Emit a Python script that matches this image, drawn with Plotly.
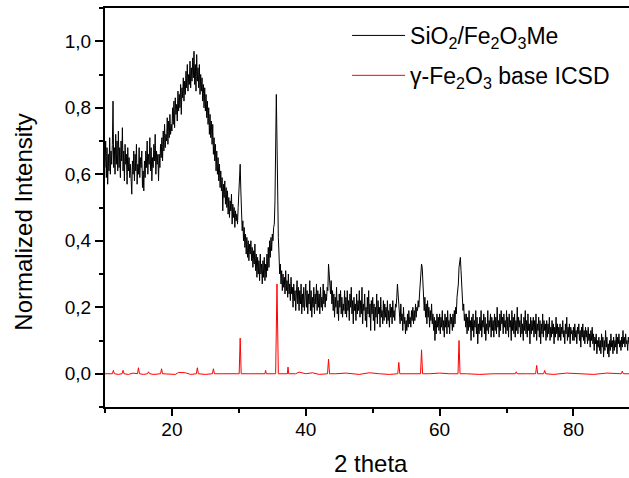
import numpy as np
import plotly.graph_objects as go

# 2-theta scan grid for the measured pattern (10.0 .. 88.3, step 0.1)
theta_black = np.round(np.arange(10.0, 88.31, 0.1), 1)

# Normalized intensity of the SiO2/Fe2O3Me sample (one row = 2 degrees)
intensity_black = [
    0.62, 0.70, 0.59, 0.68, 0.57, 0.66, 0.61, 0.71, 0.60, 0.67, 0.63, 0.69, 0.82, 0.62, 0.68, 0.60, 0.72, 0.63, 0.70, 0.61,  # 10
    0.73, 0.62, 0.68, 0.59, 0.70, 0.64, 0.74, 0.61, 0.67, 0.58, 0.69, 0.63, 0.66, 0.57, 0.68, 0.61, 0.65, 0.59, 0.63, 0.56,  # 12
    0.54, 0.64, 0.60, 0.67, 0.58, 0.66, 0.61, 0.69, 0.57, 0.63, 0.60, 0.68, 0.59, 0.65, 0.62, 0.67, 0.56, 0.61, 0.55, 0.64,  # 14
    0.59, 0.67, 0.62, 0.70, 0.60, 0.66, 0.63, 0.71, 0.61, 0.68, 0.58, 0.65, 0.62, 0.69, 0.64, 0.72, 0.60, 0.67, 0.63, 0.66,  # 16
    0.58, 0.66, 0.62, 0.69, 0.65, 0.71, 0.64, 0.73, 0.67, 0.75, 0.68, 0.72, 0.70, 0.77, 0.69, 0.76, 0.71, 0.78, 0.72, 0.75,  # 18
    0.73, 0.80, 0.75, 0.82, 0.74, 0.83, 0.78, 0.81, 0.76, 0.85, 0.79, 0.84, 0.80, 0.87, 0.78, 0.86, 0.83, 0.89, 0.82, 0.88,  # 20
    0.84, 0.91, 0.86, 0.93, 0.85, 0.90, 0.87, 0.94, 0.86, 0.92, 0.88, 0.95, 0.89, 0.97, 0.87, 0.93, 0.85, 0.96, 0.88, 0.92,  # 22
    0.86, 0.93, 0.84, 0.90, 0.85, 0.89, 0.82, 0.87, 0.80, 0.86, 0.79, 0.84, 0.77, 0.82, 0.75, 0.80, 0.72, 0.78, 0.71, 0.76,  # 24
    0.69, 0.75, 0.66, 0.71, 0.64, 0.69, 0.61, 0.67, 0.60, 0.65, 0.58, 0.63, 0.56, 0.61, 0.55, 0.59, 0.49, 0.57, 0.53, 0.58,  # 26
    0.51, 0.56, 0.50, 0.55, 0.48, 0.53, 0.47, 0.52, 0.49, 0.54, 0.45, 0.51, 0.47, 0.50, 0.44, 0.49, 0.46, 0.48, 0.45, 0.50,  # 28
    0.54, 0.60, 0.63, 0.55, 0.47, 0.43, 0.46, 0.40, 0.44, 0.38, 0.42, 0.36, 0.41, 0.35, 0.40, 0.34, 0.39, 0.36, 0.40, 0.34,  # 30
    0.38, 0.32, 0.37, 0.33, 0.39, 0.31, 0.36, 0.29, 0.35, 0.30, 0.34, 0.28, 0.36, 0.30, 0.33, 0.27, 0.34, 0.29, 0.35, 0.28,  # 32
    0.33, 0.29, 0.36, 0.31, 0.38, 0.32, 0.40, 0.35, 0.41, 0.37, 0.42, 0.40, 0.44, 0.45, 0.52, 0.68, 0.84, 0.70, 0.50, 0.41,  # 34
    0.36, 0.30, 0.33, 0.27, 0.31, 0.25, 0.30, 0.26, 0.29, 0.24, 0.31, 0.25, 0.28, 0.23, 0.30, 0.24, 0.27, 0.22, 0.29, 0.24,  # 36
    0.26, 0.20, 0.27, 0.22, 0.25, 0.19, 0.24, 0.28, 0.21, 0.26, 0.19, 0.25, 0.21, 0.27, 0.18, 0.24, 0.20, 0.26, 0.19, 0.23,  # 38
    0.27, 0.20, 0.25, 0.18, 0.24, 0.21, 0.28, 0.19, 0.25, 0.17, 0.23, 0.20, 0.26, 0.18, 0.24, 0.21, 0.27, 0.19, 0.25, 0.20,  # 40
    0.24, 0.18, 0.26, 0.20, 0.23, 0.19, 0.27, 0.21, 0.25, 0.20, 0.24, 0.22, 0.26, 0.25, 0.33, 0.30, 0.27, 0.24, 0.28, 0.21,  # 42
    0.25, 0.19, 0.24, 0.17, 0.23, 0.20, 0.26, 0.18, 0.22, 0.16, 0.24, 0.20, 0.25, 0.18, 0.23, 0.17, 0.21, 0.19, 0.25, 0.18,  # 44
    0.23, 0.17, 0.25, 0.19, 0.22, 0.16, 0.24, 0.20, 0.26, 0.18, 0.22, 0.15, 0.23, 0.19, 0.21, 0.16, 0.24, 0.18, 0.22, 0.19,  # 46
    0.25, 0.17, 0.22, 0.18, 0.26, 0.15, 0.21, 0.19, 0.24, 0.16, 0.20, 0.14, 0.23, 0.18, 0.25, 0.17, 0.21, 0.13, 0.22, 0.18,  # 48
    0.23, 0.16, 0.21, 0.13, 0.20, 0.17, 0.24, 0.15, 0.22, 0.18, 0.20, 0.14, 0.23, 0.17, 0.19, 0.15, 0.22, 0.16, 0.21, 0.17,  # 50
    0.20, 0.15, 0.22, 0.16, 0.19, 0.14, 0.21, 0.17, 0.20, 0.15, 0.22, 0.17, 0.19, 0.16, 0.21, 0.20, 0.23, 0.27, 0.24, 0.21,  # 52
    0.19, 0.15, 0.21, 0.16, 0.18, 0.13, 0.20, 0.15, 0.17, 0.12, 0.16, 0.13, 0.18, 0.14, 0.19, 0.15, 0.17, 0.14, 0.19, 0.16,  # 54
    0.20, 0.15, 0.19, 0.16, 0.21, 0.17, 0.20, 0.19, 0.22, 0.20, 0.24, 0.27, 0.31, 0.33, 0.32, 0.26, 0.22, 0.19, 0.23, 0.17,  # 56
    0.21, 0.15, 0.22, 0.17, 0.20, 0.14, 0.19, 0.16, 0.21, 0.15, 0.18, 0.13, 0.17, 0.10, 0.16, 0.12, 0.18, 0.14, 0.17, 0.13,  # 58
    0.18, 0.12, 0.17, 0.14, 0.19, 0.13, 0.16, 0.11, 0.18, 0.14, 0.17, 0.12, 0.19, 0.14, 0.16, 0.12, 0.18, 0.15, 0.17, 0.13,  # 60
    0.18, 0.14, 0.19, 0.15, 0.20, 0.18, 0.23, 0.25, 0.27, 0.32, 0.33, 0.35, 0.31, 0.26, 0.23, 0.19, 0.21, 0.16, 0.18, 0.14,  # 62
    0.18, 0.12, 0.17, 0.13, 0.19, 0.14, 0.16, 0.10, 0.17, 0.13, 0.18, 0.11, 0.16, 0.14, 0.19, 0.12, 0.17, 0.09, 0.15, 0.12,  # 64
    0.17, 0.13, 0.19, 0.11, 0.16, 0.14, 0.18, 0.12, 0.17, 0.10, 0.15, 0.13, 0.19, 0.12, 0.16, 0.14, 0.18, 0.11, 0.17, 0.13,  # 66
    0.16, 0.11, 0.18, 0.13, 0.17, 0.12, 0.20, 0.14, 0.16, 0.11, 0.18, 0.13, 0.19, 0.15, 0.17, 0.12, 0.18, 0.14, 0.16, 0.12,  # 68
    0.19, 0.13, 0.17, 0.11, 0.18, 0.14, 0.16, 0.10, 0.19, 0.13, 0.17, 0.12, 0.18, 0.11, 0.16, 0.13, 0.20, 0.12, 0.17, 0.14,  # 70
    0.16, 0.11, 0.18, 0.12, 0.15, 0.10, 0.17, 0.13, 0.19, 0.12, 0.16, 0.11, 0.18, 0.13, 0.15, 0.09, 0.17, 0.12, 0.16, 0.13,  # 72
    0.17, 0.11, 0.16, 0.12, 0.18, 0.10, 0.15, 0.13, 0.17, 0.11, 0.16, 0.09, 0.15, 0.12, 0.18, 0.11, 0.16, 0.13, 0.15, 0.10,  # 74
    0.16, 0.11, 0.15, 0.12, 0.17, 0.10, 0.14, 0.11, 0.16, 0.12, 0.15, 0.09, 0.14, 0.11, 0.17, 0.12, 0.15, 0.10, 0.14, 0.11,  # 76
    0.15, 0.10, 0.14, 0.12, 0.16, 0.11, 0.13, 0.09, 0.15, 0.12, 0.17, 0.10, 0.14, 0.11, 0.15, 0.09, 0.14, 0.12, 0.13, 0.10,  # 78
    0.14, 0.10, 0.15, 0.11, 0.13, 0.09, 0.14, 0.12, 0.15, 0.10, 0.13, 0.08, 0.14, 0.11, 0.15, 0.10, 0.13, 0.09, 0.14, 0.11,  # 80
    0.13, 0.09, 0.14, 0.10, 0.12, 0.08, 0.13, 0.10, 0.14, 0.09, 0.12, 0.07, 0.11, 0.09, 0.12, 0.06, 0.10, 0.08, 0.11, 0.07,  # 82
    0.10, 0.06, 0.12, 0.08, 0.11, 0.05, 0.10, 0.07, 0.13, 0.08, 0.11, 0.06, 0.09, 0.05, 0.10, 0.07, 0.12, 0.08, 0.10, 0.06,  # 84
    0.11, 0.07, 0.10, 0.08, 0.12, 0.06, 0.11, 0.09, 0.12, 0.08, 0.10, 0.07, 0.11, 0.08, 0.13, 0.09, 0.11, 0.08, 0.12, 0.09,  # 86
    0.10, 0.07, 0.11, 0.09,                                                                                                  # 88
]
n = min(len(theta_black), len(intensity_black))
theta_black = theta_black[:n]
intensity_black = intensity_black[:n]

# Reference gamma-Fe2O3 pattern (ICSD), baseline plus reflections
theta_red = [
    10.0, 11.1, 11.25, 11.4, 12.0, 12.55, 12.7, 12.85, 13.5, 14.2,
    14.85, 15.0, 15.15, 15.8, 16.35, 16.5, 16.65, 17.3, 18.3, 18.45,
    18.6, 19.5, 20.5, 21.0, 22.0, 22.8, 23.65, 23.8, 23.95, 25.0,
    26.05, 26.2, 26.35, 27.5, 29.0, 30.05, 30.2, 30.35, 31.5, 33.0,
    33.9, 34.0, 34.1, 35.5, 35.7, 35.9, 36.5, 37.25, 37.35, 37.45,
    38.5, 39.0, 40.0, 41.0, 42.0, 43.25, 43.4, 43.55, 44.5, 46.0,
    48.0, 49.5, 51.0, 52.5, 53.75, 53.9, 54.05, 55.5, 56.5, 57.15,
    57.3, 57.45, 58.5, 60.0, 61.5, 62.75, 62.9, 63.05, 64.0, 66.0,
    68.0, 70.0, 71.3, 71.45, 71.6, 73.0, 74.35, 74.5, 74.65, 75.55,
    75.7, 75.85, 77.0, 79.0, 81.0, 83.0, 85.0, 87.15, 87.3, 87.45,
    88.3,
]
intensity_red = [
    0.0, 0.0, 0.010, 0.0, -0.002, 0.0, 0.010, 0.0, -0.002, 0.002,
    0.0, 0.018, 0.0, -0.002, 0.0, 0.006, 0.0, -0.002, 0.0, 0.015,
    0.0, -0.002, -0.002, 0.004, 0.003, -0.002, 0.0, 0.018, 0.0, -0.002,
    0.0, 0.015, 0.0, 0.0, 0.0, 0.0, 0.107, 0.0, 0.0, 0.0,
    0.0, 0.010, 0.0, 0.0, 0.270, 0.0, 0.0, 0.0, 0.020, 0.0,
    0.0, 0.005, 0.0, 0.003, -0.002, 0.0, 0.044, 0.0, 0.0, 0.002,
    -0.002, 0.003, 0.0, -0.002, 0.0, 0.034, 0.0, 0.0, 0.0, 0.0,
    0.072, 0.0, 0.0, 0.002, 0.0, 0.0, 0.100, 0.0, 0.0, -0.002,
    0.0, 0.0, 0.0, 0.006, 0.0, 0.0, 0.0, 0.025, 0.0, 0.0,
    0.010, 0.0, -0.002, 0.002, 0.0, -0.002, 0.002, 0.0, 0.008, 0.0,
    0.0,
]

name_black = "SiO<sub>2</sub>/Fe<sub>2</sub>O<sub>3</sub>Me"
name_red = "γ-Fe<sub>2</sub>O<sub>3</sub> base ICSD"
x_title = "2 theta"
y_title = "Normalized Intensity"

FONT = "Liberation Sans, Arial, sans-serif"

fig = go.Figure()
fig.add_trace(go.Scatter(x=theta_black, y=intensity_black, mode="lines",
                         line=dict(color="#000000", width=1),
                         name=name_black, legendgroup="a"))
fig.add_trace(go.Scatter(x=theta_red, y=intensity_red, mode="lines",
                         line=dict(color="#ff0000", width=1),
                         name=name_red, legendgroup="b"))

axis_common = dict(
    showgrid=False, zeroline=False, showline=True, linecolor="#000000",
    linewidth=2, ticks="outside", tickwidth=2, tickcolor="#000000",
    tickfont=dict(family=FONT, size=19, color="#000000"),
)

fig.update_layout(
    width=629, height=478,
    margin=dict(l=105, r=0, t=8, b=71),
    paper_bgcolor="white", plot_bgcolor="white",
    separators=", ",
    font=dict(family=FONT, color="#000000"),
    xaxis=dict(**axis_common, range=[10, 88.3], tick0=0, dtick=20, ticklen=7,
               mirror=True, ticklabelstandoff=-3,
               minor=dict(ticks="outside", ticklen=4, tickwidth=2, dtick=10,
                          tick0=0, tickcolor="#000000")),
    yaxis=dict(**axis_common, range=[-0.1, 1.1], tick0=0, dtick=0.2,
               tickformat=".1f", ticklen=8,
               minor=dict(ticks="outside", ticklen=4, tickwidth=2, dtick=0.1,
                          tick0=0, tickcolor="#000000")),
    annotations=[
        dict(text=x_title, xref="paper", yref="paper", x=0.508, y=-0.142,
             xanchor="center", yanchor="middle", showarrow=False,
             font=dict(family=FONT, size=24, color="#000000")),
        dict(text=y_title, xref="paper", yref="paper", x=-0.155, y=0.464,
             xanchor="center", yanchor="middle", textangle=-90, showarrow=False,
             font=dict(family=FONT, size=24, color="#000000")),
    ],
    showlegend=True,
    legend=dict(x=0.462, y=0.985, xanchor="left", yanchor="top",
                bgcolor="rgba(0,0,0,0)", borderwidth=0,
                font=dict(family=FONT, size=23, color="#000000"),
                itemwidth=53, tracegroupgap=7),
)

fig.write_html("out.html", config={"displayModeBar": False},
               post_script="document.body.style.margin='0';document.body.style.overflow='hidden';")
